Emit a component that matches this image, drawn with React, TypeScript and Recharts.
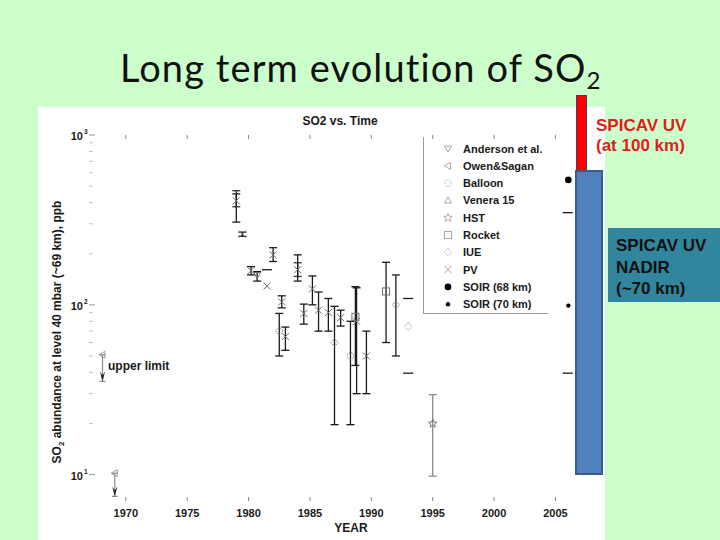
import React from "react";
import { ScatterChart, Scatter, XAxis, YAxis, ErrorBar } from "recharts";

// axis ticks
const yearTicks = [1970, 1975, 1980, 1985, 1990, 1995, 2000, 2005];
const ppbTicks = [10, 20, 30, 40, 50, 60, 70, 80, 90, 100, 200, 300, 400, 500, 600, 700, 800, 900, 1000];

// PV (x) with error bars
const pvYear = [1979.0, 1979.5, 1980.2, 1982.0, 1982.7, 1983.0, 1984.0, 1984.5, 1985.2, 1985.7, 1986.5, 1987.5, 1988.8, 1989.6];
const pvValue = [410, 261, 159, 197, 104, 65, 161, 89, 124, 93, 90, 84, 80, 50];
const pvLow = [307, 253, 150, 180, 96, 54, 138, 77, 100, 70, 70, 75, 30, 30];
const pvHigh = [450, 268, 168, 217, 113, 74, 197, 101, 148, 119, 109, 93, 126, 70];
// PV without bars
const pvSoloYear = [1981.5];
const pvSoloValue = [129];

// second bars drawn over some PV points
const extraYear = [1979.0, 1984.0];
const extraValue = [420, 161];
const extraLow = [378, 147];
const extraHigh = [470, 177];

const andersonYear = [1980.7];
const andersonValue = [150];
const andersonLow = [138];
const andersonHigh = [157];

const balloonYear = [1982.5, 1988.3];
const balloonValue = [70, 50];
const balloonLow = [50, 19.7];
const balloonHigh = [89, 80];

const iueYear = [1987.0, 1992.0];
const iueValue = [60, 100];
const iueLow = [19.7, 50];
const iueHigh = [98, 150];
const iueSoloYear = [1993.0];
const iueSoloValue = [74.5];

const rocketYear = [1988.7, 1991.2];
const rocketValue = [85, 120];
const rocketLow = [44, 60];
const rocketHigh = [128, 178];

const hstYear = [1995.0];
const hstValue = [20];
const hstLow = [9.8];
const hstHigh = [29.6];

const soir68Year = [2006.05];
const soir68Value = [544];
const soir70Year = [2006.05];
const soir70Value = [99];

const dashYear = [1981.5, 1993.0, 1993.0, 2006.0, 2006.0];
const dashValue = [161, 109, 39.6, 349, 39.6];

// upper limits (Owen&Sagan) and where their arrows end
const limitYear = [1968.1, 1969.1];
const limitValue = [50.8, 10.2];
const limitTip = [35.4, 7.45];

const legendNames = ["Anderson et al.", "Owen&Sagan", "Balloon", "Venera 15", "HST", "Rocket", "IUE", "PV", "SOIR (68 km)", "SOIR (70 km)"];
const legendKinds = ["triDown", "triLeft", "circle", "triUp", "star", "square", "diamond", "cross", "dotBig", "dotSmall"];

const withErr = (year: number[], value: number[], low: number[], high: number[]) =>
  year.map((y, i) => ({ year: y, v: value[i], err: [value[i] - low[i], high[i] - value[i]] }));
const plain = (year: number[], value: number[]) => year.map((y, i) => ({ year: y, v: value[i] }));

const PLOT_TOP = 135;
const AXIS_H = 39;
const PLOT_H = 540 - AXIS_H - PLOT_TOP;
const FONT = "'Liberation Sans', Arial, sans-serif";
const MARK = "#6e6e6e";

function symbol(kind: string, cx: number, cy: number, c: string) {
  const s = 3.5;
  switch (kind) {
    case "triDown":
      return <path d={`M${cx - s},${cy - s * 0.7}L${cx + s},${cy - s * 0.7}L${cx},${cy + s}Z`} fill="none" stroke={c} />;
    case "triUp":
      return <path d={`M${cx - s},${cy + s * 0.7}L${cx + s},${cy + s * 0.7}L${cx},${cy - s}Z`} fill="none" stroke={c} />;
    case "triLeft":
      return <path d={`M${cx + s * 0.7},${cy - s}L${cx + s * 0.7},${cy + s}L${cx - s},${cy}Z`} fill="none" stroke={c} />;
    case "circle":
      return <circle cx={cx} cy={cy} r={3.2} fill="none" stroke={c} strokeDasharray="1.2 1" />;
    case "diamond":
      return <path d={`M${cx},${cy - 4}L${cx + 3.5},${cy}L${cx},${cy + 4}L${cx - 3.5},${cy}Z`} fill="none" stroke={c} strokeDasharray="1.5 1" />;
    case "star": {
      let d = "";
      for (let k = 0; k < 10; k++) {
        const r = k % 2 === 0 ? 4.5 : 1.9;
        const a = -Math.PI / 2 + (k * Math.PI) / 5;
        d += `${k === 0 ? "M" : "L"}${cx + r * Math.cos(a)},${cy + r * Math.sin(a)}`;
      }
      return <path d={d + "Z"} fill="none" stroke={c} strokeWidth={0.9} />;
    }
    case "square":
      return <rect x={cx - 3.5} y={cy - 3.5} width={7} height={7} fill="none" stroke={c} />;
    case "cross":
      return <path d={`M${cx - s},${cy - s}L${cx + s},${cy + s}M${cx - s},${cy + s}L${cx + s},${cy - s}`} stroke={c} />;
    case "dotBig":
      return <circle cx={cx} cy={cy} r={3.3} fill={c} />;
    case "dotSmall":
      return <circle cx={cx} cy={cy} r={2.2} fill={c} />;
    case "dash":
      return <line x1={cx - 5} x2={cx + 5} y1={cy} y2={cy} stroke={c} strokeWidth={1.3} />;
    case "arrow":
      return <path d={`M${cx - 2.6},${cy - 10}L${cx},${cy - 6}L${cx + 2.6},${cy - 10}L${cx},${cy}Z`} fill={c} />;
    case "none":
    default:
      return <g />;
  }
}

const shape = (kind: string, c: string) => (p: any) => symbol(kind, p.cx ?? 0, p.cy ?? 0, c);

function XTick(props: any) {
  const { x, y, payload } = props;
  return (
    <g>
      <line x1={x} x2={x} y1={y} y2={y - 4} stroke="#888" />
      <line x1={x} x2={x} y1={y - PLOT_H} y2={y - PLOT_H + 4} stroke="#888" />
      <text x={x} y={y + 16} textAnchor="middle" fontFamily={FONT} fontWeight="bold" fontSize={11} fill="#1a1a1a">
        {payload.value}
      </text>
    </g>
  );
}

function YTick(props: any) {
  const { x, y, payload } = props;
  const v = payload.value as number;
  const exp = Math.round(Math.log10(v));
  const major = Math.abs(Math.pow(10, exp) - v) < 1e-6;
  return (
    <g>
      <line x1={x} x2={x + (major ? 6 : 4)} y1={y} y2={y} stroke={major ? "#999" : "#c4c4c4"} />
      {major && (
        <text x={x - 6} y={y + 5} textAnchor="end" fontFamily={FONT} fontWeight="bold" fontSize={11} fill="#1a1a1a">
          10
        </text>
      )}
      {major && (
        <text x={x - 5} y={y - 1} fontFamily={FONT} fontWeight="bold" fontSize={6.5} fill="#1a1a1a">
          {exp}
        </text>
      )}
    </g>
  );
}

export default function App() {
  const bar = (stroke: string, w = 4) => (
    <ErrorBar dataKey="err" direction="y" width={w} stroke={stroke} strokeWidth={1.3} isAnimationActive={false} />
  );
  return (
    <div style={{ position: "absolute", left: 0, top: 0, width: 720, height: 540, background: "#ccffcc", overflow: "hidden" }}>
      <div style={{ position: "absolute", left: 38, top: 107, width: 567, height: 433, background: "#ffffff" }} />
      <div style={{ position: "absolute", left: 576, top: 95, width: 11, height: 76, background: "#ff0000", border: "1.5px solid #4b3a70", boxSizing: "border-box" }} />
      <div style={{ position: "absolute", left: 0, top: 0 }}>
        <ScatterChart width={720} height={540} margin={{ top: PLOT_TOP, right: 140, bottom: 0, left: 0 }}>
          <XAxis
            type="number"
            dataKey="year"
            domain={[1967, 2007]}
            allowDataOverflow
            ticks={yearTicks}
            interval={0}
            tick={<XTick />}
            tickLine={false}
            axisLine={false}
            tickSize={0}
            tickMargin={0}
            height={AXIS_H}
          />
          <YAxis
            type="number"
            dataKey="v"
            scale="log"
            domain={[7, 1000]}
            allowDataOverflow
            ticks={ppbTicks}
            interval={0}
            tick={<YTick />}
            tickLine={false}
            axisLine={false}
            tickSize={0}
            tickMargin={0}
            width={89}
          />
          <Scatter data={withErr(extraYear, extraValue, extraLow, extraHigh)} shape={shape("none", MARK)} isAnimationActive={false}>
            {bar("#333")}
          </Scatter>
          <Scatter data={withErr(pvYear, pvValue, pvLow, pvHigh)} shape={shape("cross", MARK)} isAnimationActive={false}>
            {bar("#1a1a1a")}
          </Scatter>
          <Scatter data={plain(pvSoloYear, pvSoloValue)} shape={shape("cross", MARK)} isAnimationActive={false} />
          <Scatter data={withErr(andersonYear, andersonValue, andersonLow, andersonHigh)} shape={shape("triDown", MARK)} isAnimationActive={false}>
            {bar("#1a1a1a")}
          </Scatter>
          <Scatter data={withErr(balloonYear, balloonValue, balloonLow, balloonHigh)} shape={shape("circle", MARK)} isAnimationActive={false}>
            {bar("#1a1a1a")}
          </Scatter>
          <Scatter data={withErr(iueYear, iueValue, iueLow, iueHigh)} shape={shape("diamond", MARK)} isAnimationActive={false}>
            {bar("#1a1a1a")}
          </Scatter>
          <Scatter data={plain(iueSoloYear, iueSoloValue)} shape={shape("diamond", "#999")} isAnimationActive={false} />
          <Scatter data={withErr(rocketYear, rocketValue, rocketLow, rocketHigh)} shape={shape("square", MARK)} isAnimationActive={false}>
            {bar("#1a1a1a")}
          </Scatter>
          <Scatter data={withErr(hstYear, hstValue, hstLow, hstHigh)} shape={shape("star", MARK)} isAnimationActive={false}>
            {bar("#8a8a8a")}
          </Scatter>
          <Scatter data={plain(dashYear, dashValue)} shape={shape("dash", "#1a1a1a")} isAnimationActive={false} />
          <Scatter data={plain(soir68Year, soir68Value)} shape={shape("dotBig", "#000")} isAnimationActive={false} />
          <Scatter data={plain(soir70Year, soir70Value)} shape={shape("dotSmall", "#000")} isAnimationActive={false} />
          <Scatter
            data={limitYear.map((y, i) => ({ year: y, v: limitValue[i], err: [limitValue[i] - limitTip[i], 0] }))}
            shape={shape("triLeft", "#9a9a9a")}
            isAnimationActive={false}
          >
            <ErrorBar dataKey="err" direction="y" width={3} stroke="#8a8a8a" strokeWidth={1.2} isAnimationActive={false} />
          </Scatter>
          <Scatter data={plain(limitYear, limitTip)} shape={shape("arrow", "#222")} isAnimationActive={false} />
        </ScatterChart>
      </div>
      <div style={{ position: "absolute", left: 575, top: 170, width: 28, height: 305, background: "#4f81bd", border: "2px solid #385d8a", boxSizing: "border-box" }} />
      <div style={{ position: "absolute", left: 608, top: 228, width: 112, height: 74, background: "#31859c" }} />
      <svg width={720} height={540} style={{ position: "absolute", left: 0, top: 0, pointerEvents: "none" }}>
        <text
          x={120}
          y={82}
          fontFamily="Lato, 'Open Sans', sans-serif"
          fontSize={38}
          fill="#111"
          letterSpacing={1.1}
          style={{ fontVariantLigatures: "none", fontFeatureSettings: '"liga" 0, "clig" 0, "dlig" 0' }}
        >
          Long term evolution of SO
          <tspan fontSize={24} dy={7} letterSpacing={0}>2</tspan>
        </text>

        <text x={340} y={125} textAnchor="middle" fontFamily={FONT} fontWeight="bold" fontSize={12} fill="#1a1a1a">SO2 vs. Time</text>
        <text x={351} y={532} textAnchor="middle" fontFamily={FONT} fontWeight="bold" fontSize={12} fill="#1a1a1a">YEAR</text>
        <text transform="rotate(-90 61 332)" x={61} y={332} textAnchor="middle" fontFamily={FONT} fontWeight="bold" fontSize={12} fill="#1a1a1a">
          SO<tspan fontSize={8} dy={3}>2</tspan>
          <tspan dy={-3}> abundance at level 40 mbar (~69 km), ppb</tspan>
        </text>
        <text x={108} y={370} fontFamily={FONT} fontWeight="bold" fontSize={12} fill="#1a1a1a">upper limit</text>

        <path d="M423.5,137V313.5H548" fill="none" stroke="#999" strokeWidth={1} />
        {legendNames.map((name, i) => {
          const yy = 148.5 + i * 17.3;
          const c = i >= 8 ? "#000" : "#a8a8a8";
          return (
            <g key={name}>
              {symbol(legendKinds[i], 448, yy, c)}
              <text x={463} y={yy + 4} fontFamily={FONT} fontWeight="bold" fontSize={11} fill="#1a1a1a">{name}</text>
            </g>
          );
        })}

        <text fontFamily={FONT} fontWeight="bold" fontSize={17} fill="#e41b1b">
          <tspan x={596} y={131}>SPICAV UV</tspan>
          <tspan x={596} y={151}>(at 100 km)</tspan>
        </text>
        <text fontFamily={FONT} fontWeight="bold" fontSize={17} fill="#111">
          <tspan x={616} y={251}>SPICAV UV</tspan>
          <tspan x={616} y={273}>NADIR</tspan>
          <tspan x={616} y={294}>(~70 km)</tspan>
        </text>
      </svg>
    </div>
  );
}
